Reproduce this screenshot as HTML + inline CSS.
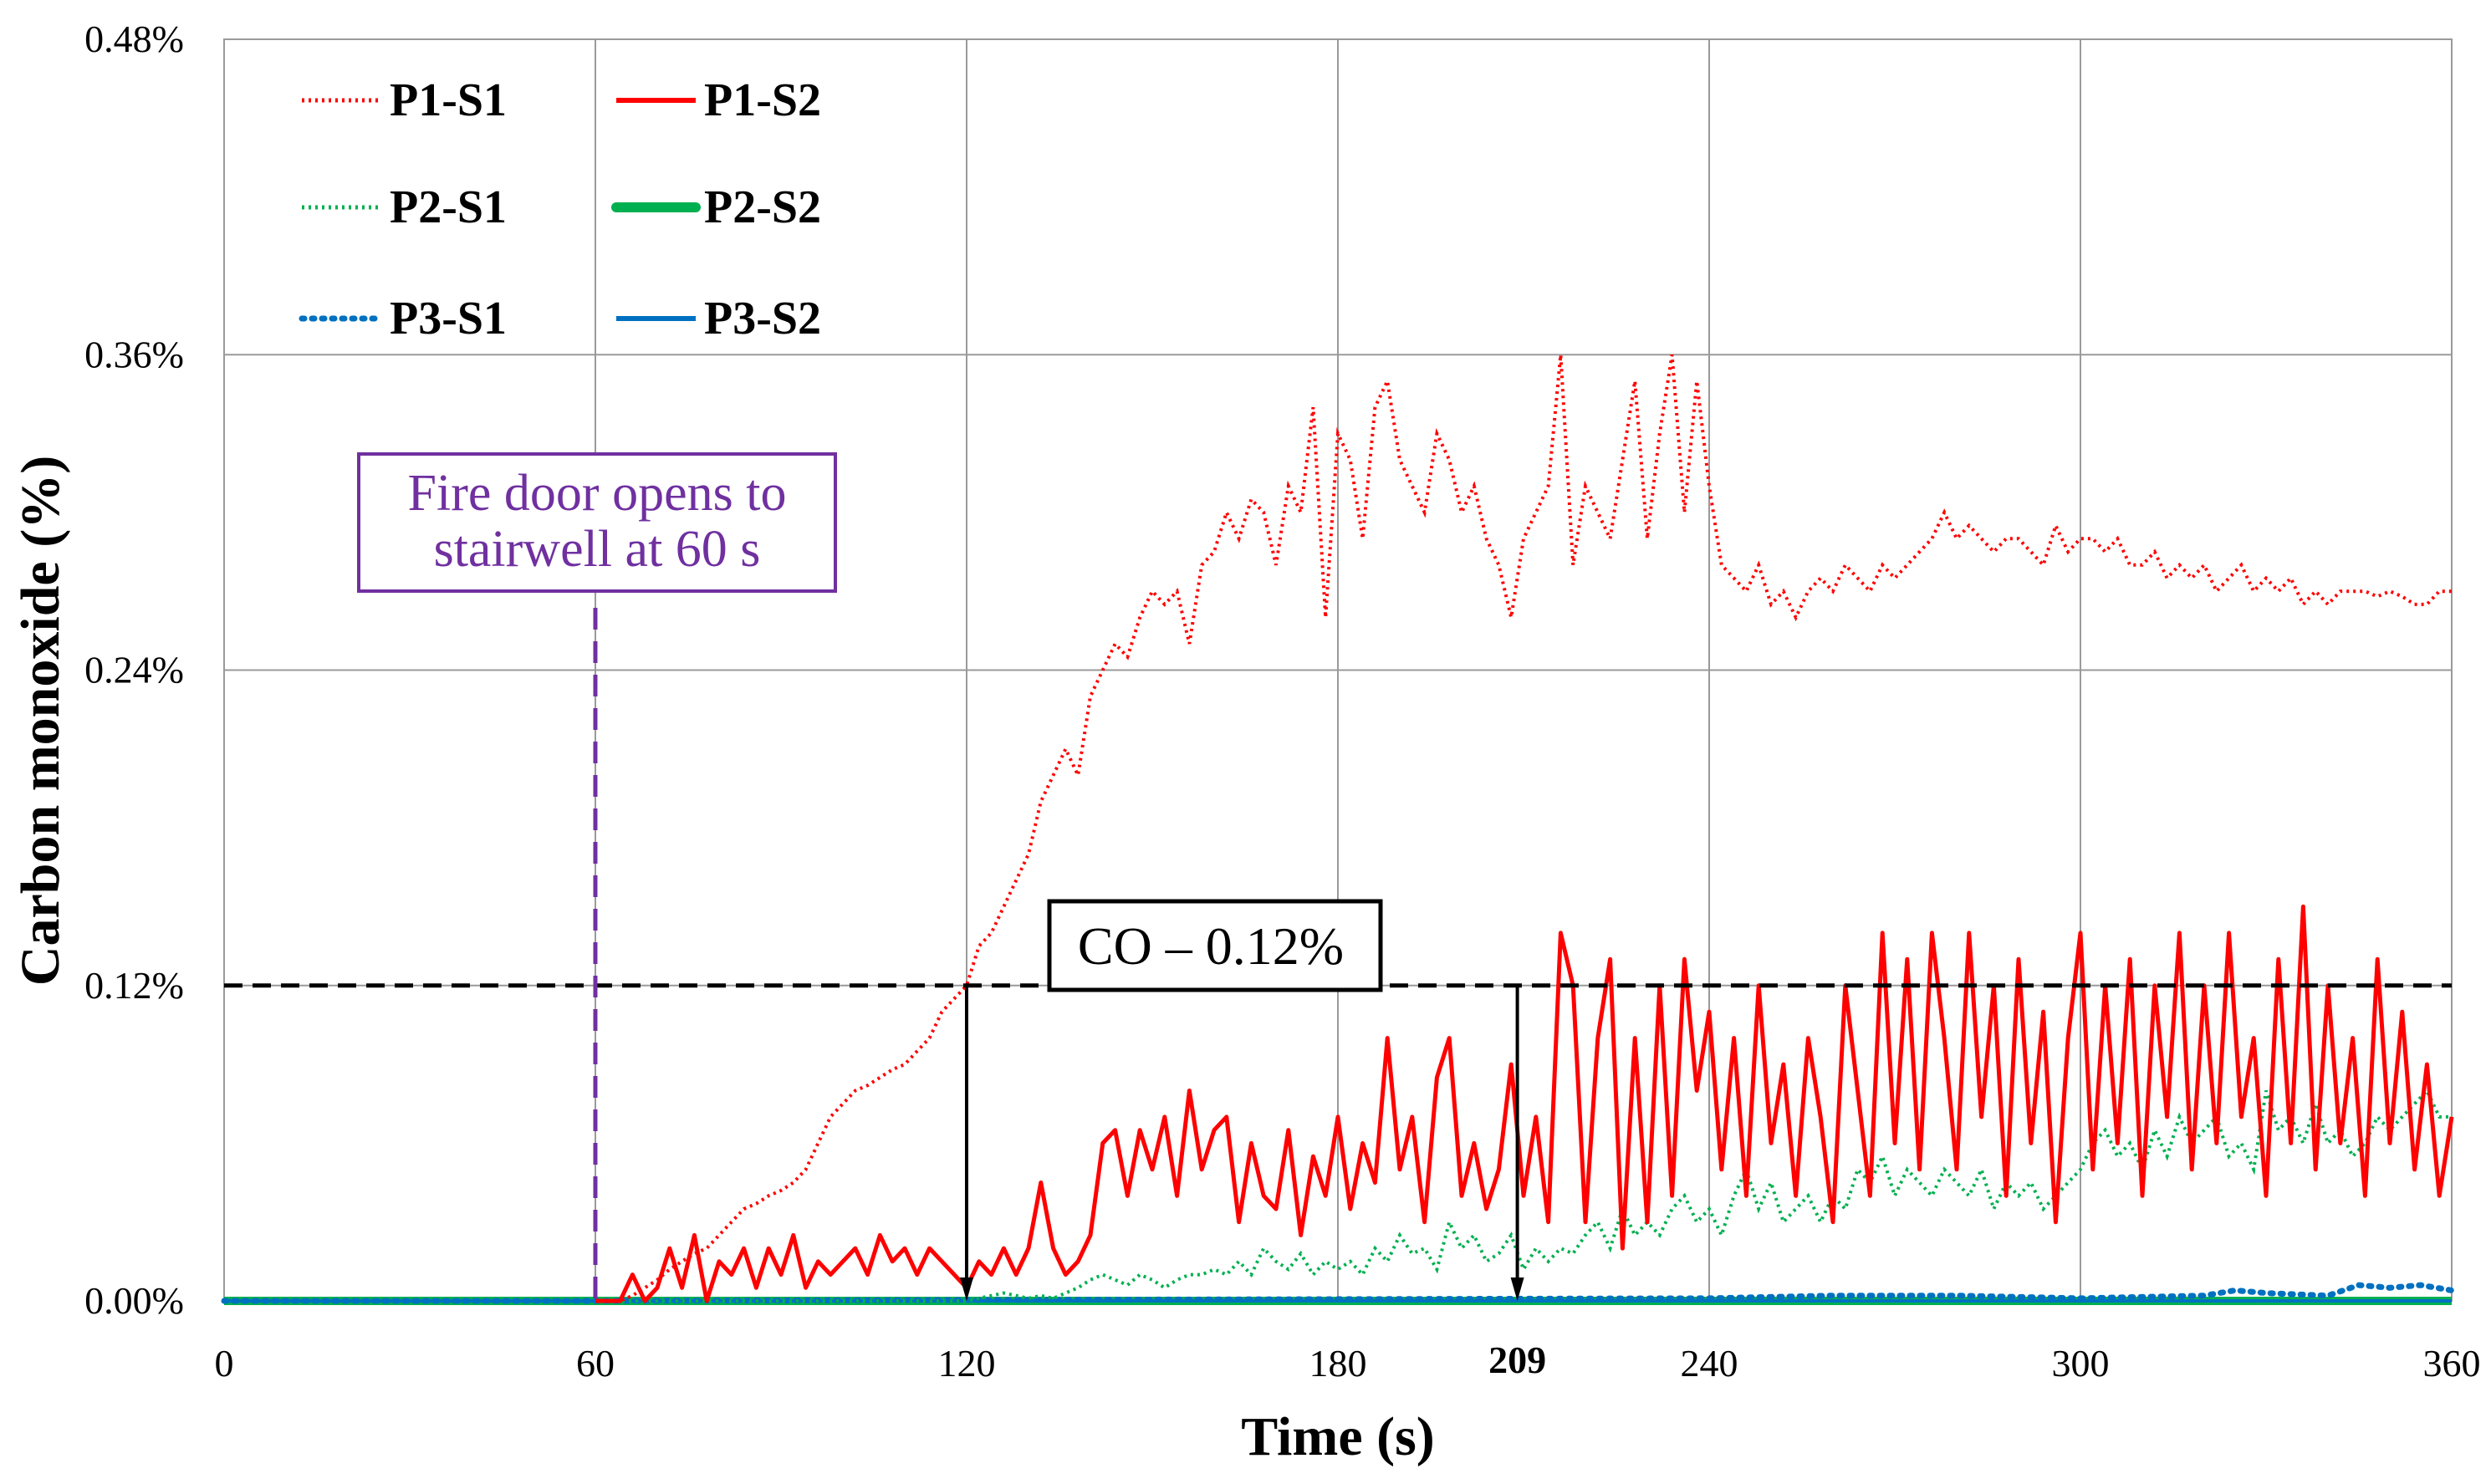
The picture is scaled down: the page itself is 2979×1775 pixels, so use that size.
<!DOCTYPE html>
<html><head><meta charset="utf-8"><style>
html,body{margin:0;padding:0;background:#fff;}
svg text{font-family:"Liberation Serif",serif;}
</style></head><body>
<svg id="chart" width="2979" height="1770" viewBox="0 0 2979 1770" xmlns="http://www.w3.org/2000/svg">
<g id="grid"></g>
<g id="yticks"></g>
<g id="xticks"></g>
<g id="series"></g>
<g id="annot"></g>
<text x="1600" y="1740" font-size="66" font-weight="bold" text-anchor="middle">Time (s)</text>
<text transform="translate(70,862) rotate(-90)" font-size="66" font-weight="bold" text-anchor="middle">Carbon monoxide (%)</text>
</svg>
<script>
const xTicks=[0,60,120,180,240,300,360];
const yTicks=[0,0.12,0.24,0.36,0.48];
const yTickLabels=["0.00%","0.12%","0.24%","0.36%","0.48%"];
const tStart=60, tStep=2;
const p1s1=[0,0,0,
0.002,0.005,0.008,0.012,0.015,0.018,0.02,
0.025,0.03,0.035,0.037,0.04,0.042,0.045,0.05,0.06,0.07,
0.075,0.08,0.082,0.085,0.088,0.09,0.095,0.1,0.11,0.115,
0.12,0.135,0.14,0.15,0.16,0.17,0.19,0.2,0.21,0.2,
0.23,0.24,0.25,0.245,0.26,0.27,0.265,0.27,0.25,0.28,
0.285,0.3,0.29,0.305,0.3,0.28,0.31,0.3,0.34,0.26,
0.33,0.32,0.29,0.34,0.35,0.32,0.31,0.3,0.33,0.32,
0.3,0.31,0.29,0.28,0.26,0.29,0.3,0.31,0.36,0.28,
0.31,0.3,0.29,0.32,0.35,0.29,0.33,0.36,0.3,0.35,
0.31,0.28,0.275,0.27,0.28,0.265,0.27,0.26,0.27,0.275,
0.27,0.28,0.275,0.27,0.28,0.275,0.28,0.285,0.29,0.3,
0.29,0.295,0.29,0.285,0.29,0.29,0.285,0.28,0.295,0.285,
0.29,0.29,0.285,0.29,0.28,0.28,0.285,0.275,0.28,0.275,
0.28,0.27,0.275,0.28,0.27,0.275,0.27,0.275,0.265,0.27,
0.265,0.27,0.27,0.27,0.268,0.27,0.268,0.265,0.265,0.27,
0.27];
const p1s2=[0,0,0,
0.01,0,0.005,0.02,0.005,0.025,0,
0.015,0.01,0.02,0.005,0.02,0.01,0.025,0.005,0.015,0.01,
0.015,0.02,0.01,0.025,0.015,0.02,0.01,0.02,0.015,0.01,
0.005,0.015,0.01,0.02,0.01,0.02,0.045,0.02,0.01,0.015,
0.025,0.06,0.065,0.04,0.065,0.05,0.07,0.04,0.08,0.05,
0.065,0.07,0.03,0.06,0.04,0.035,0.065,0.025,0.055,0.04,
0.07,0.035,0.06,0.045,0.1,0.05,0.07,0.03,0.085,0.1,
0.04,0.06,0.035,0.05,0.09,0.04,0.07,0.03,0.14,0.12,
0.03,0.1,0.13,0.02,0.1,0.03,0.12,0.04,0.13,0.08,
0.11,0.05,0.1,0.04,0.12,0.06,0.09,0.04,0.1,0.07,
0.03,0.12,0.08,0.04,0.14,0.06,0.13,0.05,0.14,0.1,
0.05,0.14,0.07,0.12,0.04,0.13,0.06,0.11,0.03,0.1,
0.14,0.05,0.12,0.06,0.13,0.04,0.12,0.07,0.14,0.05,
0.12,0.06,0.14,0.07,0.1,0.04,0.13,0.06,0.15,0.05,
0.12,0.06,0.1,0.04,0.13,0.06,0.11,0.05,0.09,0.04,
0.07];
const p2s1=[0,0,0,
0,0,0,0,0,0,0,
0,0,0,0,0,0,0,0,0,0,
0,0,0,0,0,0,0,0,0,0,
0,0.001,0.002,0.003,0.002,0.001,0.002,0.001,0.003,0.005,
0.008,0.01,0.008,0.006,0.01,0.008,0.005,0.008,0.01,0.01,
0.012,0.01,0.015,0.01,0.02,0.015,0.012,0.018,0.01,0.015,
0.012,0.015,0.01,0.02,0.015,0.025,0.018,0.02,0.012,0.03,
0.02,0.025,0.015,0.018,0.025,0.012,0.02,0.015,0.02,0.018,
0.025,0.03,0.02,0.035,0.025,0.03,0.025,0.035,0.04,0.03,
0.035,0.025,0.04,0.05,0.035,0.045,0.03,0.035,0.04,0.03,
0.04,0.035,0.05,0.045,0.055,0.04,0.05,0.045,0.04,0.05,
0.045,0.04,0.05,0.035,0.045,0.04,0.045,0.035,0.04,0.045,
0.05,0.06,0.065,0.055,0.06,0.05,0.065,0.055,0.07,0.06,
0.065,0.07,0.055,0.06,0.05,0.08,0.065,0.07,0.06,0.075,
0.06,0.065,0.055,0.06,0.07,0.065,0.07,0.075,0.08,0.07,
0.07];
const p3s1Times=[0,60,240,260,280,300,320,325,330,340,345,350,355,360];
const p3s1=[0,0,0.001,0.002,0.002,0.001,0.002,0.004,0.003,0.002,0.006,0.005,0.006,0.004];
const flatTimes=[0,360];
const p2s2=[0,0];
const p3s2=[0,0];

const X0=268,X1=2932,Y0=1556,Y1=47;
const sx=t=>X0+(t/360)*(X1-X0);
const sy=v=>Y0-(v/0.48)*(Y0-Y1);
const NS="http://www.w3.org/2000/svg";
function mk(tag,attrs,parent){const e=document.createElementNS(NS,tag);for(const k in attrs)e.setAttribute(k,attrs[k]);parent.appendChild(e);return e;}
const grid=document.getElementById('grid');
mk('rect',{x:X0,y:Y1,width:X1-X0,height:Y0-Y1,fill:'none',stroke:'#9a9a9a','stroke-width':2},grid);
xTicks.forEach(t=>{const l=mk('line',{x1:sx(t),x2:sx(t),y1:Y1,y2:Y0,stroke:'#9a9a9a','stroke-width':2},grid);

});
yTicks.forEach(v=>{const l=mk('line',{x1:X0,x2:X1,y1:sy(v),y2:sy(v),stroke:'#9a9a9a','stroke-width':2},grid);

});
const yt=document.getElementById('yticks');
yTicks.forEach((v,i)=>{const e=mk('text',{x:220,y:sy(v)+15,'font-size':46,'text-anchor':'end'},yt);e.textContent=yTickLabels[i];

});
const xt=document.getElementById('xticks');
xTicks.forEach(t=>{const e=mk('text',{x:sx(t),y:1646,'font-size':46,'text-anchor':'middle'},xt);e.textContent=t;

});
const e209=mk('text',{x:sx(209),y:1642,'font-size':46,'font-weight':'bold','text-anchor':'middle'},xt);e209.textContent='209';



const ser=document.getElementById('series');
function pathStep(vals){return vals.map((v,i)=>(i?'L':'M')+sx(tStart+i*tStep).toFixed(1)+','+sy(v).toFixed(1)).join(' ');}
function pathXY(ts,vals){return vals.map((v,i)=>(i?'L':'M')+sx(ts[i]).toFixed(1)+','+sy(v).toFixed(1)).join(' ');}
const s6=mk('path',{d:pathXY(flatTimes,p2s2),fill:'none',stroke:'#00b050','stroke-width':10},ser);


const s7=mk('path',{d:pathXY(flatTimes,p3s2),fill:'none',stroke:'#0070c0','stroke-width':4},ser);


const s5=mk('path',{d:pathXY(p3s1Times,p3s1),fill:'none',stroke:'#0070c0','stroke-width':7,'stroke-dasharray':'3 9','stroke-linecap':'round'},ser);


const s3=mk('path',{d:pathStep(p2s1),fill:'none',stroke:'#00b050','stroke-width':4,'stroke-dasharray':'3 5'},ser);


const s2=mk('path',{d:pathStep(p1s2),fill:'none',stroke:'#ff0000','stroke-width':5,'stroke-linejoin':'round'},ser);


const s1=mk('path',{d:pathStep(p1s1),fill:'none',stroke:'#ff0000','stroke-width':4,'stroke-dasharray':'3 5'},ser);



const an=document.getElementById('annot');
const h=mk('line',{x1:X0,x2:X1,y1:sy(0.12),y2:sy(0.12),stroke:'#000','stroke-width':5,'stroke-dasharray':'22 12'},an);


const v=mk('line',{x1:sx(60),x2:sx(60),y1:727,y2:Y0,stroke:'#7030a0','stroke-width':5,'stroke-dasharray':'26 14'},an);


[120,209].forEach(t=>{const a=mk('line',{x1:sx(t),x2:sx(t),y1:sy(0.12),y2:Y0-22,stroke:'#000','stroke-width':4},an);


const p=mk('polygon',{points:`${sx(t)-8},${Y0-28} ${sx(t)+8},${Y0-28} ${sx(t)},${Y0}`,fill:'#000'},an);

});
</script>
<svg style="position:absolute;left:0;top:0" width="2979" height="1770">
<rect x="429" y="543" width="570" height="164" fill="#fff" stroke="#7030a0" stroke-width="4"/>
<text x="714" y="610" font-size="62" fill="#7030a0" text-anchor="middle" font-family="Liberation Serif, serif">Fire door opens to</text>
<text x="714" y="677" font-size="62" fill="#7030a0" text-anchor="middle" font-family="Liberation Serif, serif">stairwell at 60 s</text>
<rect x="1255" y="1078" width="396" height="106" fill="#fff" stroke="#000" stroke-width="5"/>
<text x="1448" y="1153" font-size="64" text-anchor="middle" font-family="Liberation Serif, serif">CO – 0.12%</text>
<g font-family="Liberation Serif, serif" font-size="56" font-weight="bold">
<line x1="361" x2="456" y1="120" y2="120" stroke="#f00" stroke-width="5" stroke-dasharray="3 5"/>
<text x="466" y="138">P1-S1</text>
<line x1="737" x2="832" y1="120" y2="120" stroke="#f00" stroke-width="6"/>
<text x="842" y="138">P1-S2</text>
<line x1="361" x2="456" y1="248" y2="248" stroke="#00b050" stroke-width="5" stroke-dasharray="3 5"/>
<text x="466" y="266">P2-S1</text>
<line x1="737" x2="832" y1="248" y2="248" stroke="#00b050" stroke-width="12" stroke-linecap="round"/>
<text x="842" y="266">P2-S2</text>
<line x1="361" x2="456" y1="381" y2="381" stroke="#0070c0" stroke-width="7" stroke-dasharray="3 9" stroke-linecap="round"/>
<text x="466" y="399">P3-S1</text>
<line x1="737" x2="832" y1="381" y2="381" stroke="#0070c0" stroke-width="6"/>
<text x="842" y="399">P3-S2</text>
</g>
</svg>
</body></html>
